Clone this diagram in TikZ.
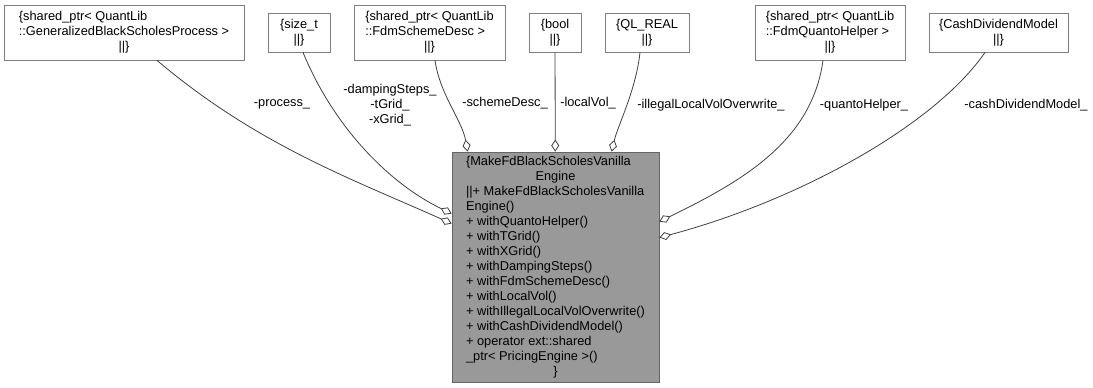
\documentclass[tikz,border=0pt]{standalone}
\usepackage{fontspec}
\setmainfont{Liberation Sans}
\usetikzlibrary{arrows.meta}
\definecolor{boxline}{HTML}{808080}
\definecolor{clsfill}{HTML}{999999}
\definecolor{clsline}{HTML}{666666}
\definecolor{edgeline}{HTML}{404040}
\newcommand\fieldrows[1]{\begin{tabular}{@{}l@{}}#1\end{tabular}}
\newcommand\midrow[1]{\multicolumn{1}{@{}c@{}}{#1}}

\begin{document}
\begin{tikzpicture}[x=1pt,y=-1pt,
  font=\fontsize{12.8}{15}\selectfont,
  member/.style={draw=boxline,fill=white,inner sep=0pt,line width=0.8pt},
  cls/.style={draw=clsline,fill=clsfill,inner sep=0pt,line width=0.8pt},
  agg/.style={draw=edgeline,line width=0.8pt,-{Diamond[open,length=12pt,width=8pt]}},
  lbl/.style={inner sep=0pt,align=center}]
\useasboundingbox (0,0) rectangle (1093,388);

\node[member,minimum width=240,minimum height=55] (process) at (124,32.5)
  {\fieldrows{\{shared\_ptr< QuantLib\\::GeneralizedBlackScholesProcess >\\\midrow{||\}}}};
\node[member,minimum width=62,minimum height=39] (sizet) at (299,32.5)
  {\fieldrows{\{size\_t\\\midrow{||\}}}};
\node[member,minimum width=151,minimum height=55] (scheme) at (429.5,32.5)
  {\fieldrows{\{shared\_ptr< QuantLib\\::FdmSchemeDesc >\\\midrow{||\}}}};
\node[member,minimum width=52,minimum height=39] (boolt) at (555,32.5)
  {\fieldrows{\{bool\\\midrow{||\}}}};
\node[member,minimum width=84,minimum height=39] (qlreal) at (647,32.5)
  {\fieldrows{\{QL\_REAL\\\midrow{||\}}}};
\node[member,minimum width=150,minimum height=55] (quanto) at (830,32.5)
  {\fieldrows{\{shared\_ptr< QuantLib\\::FdmQuantoHelper >\\\midrow{||\}}}};
\node[member,minimum width=139,minimum height=39] (cashdiv) at (998.5,32.5)
  {\fieldrows{\{CashDividendModel\\\midrow{||\}}}};

\node[cls,minimum width=207,minimum height=230] (main) at (555.5,267)
  {\fieldrows{\{MakeFdBlackScholesVanilla\\\midrow{Engine}\\
  ||+ MakeFdBlackScholesVanilla\\Engine()\\
  + withQuantoHelper()\\+ withTGrid()\\+ withXGrid()\\
  + withDampingSteps()\\+ withFdmSchemeDesc()\\+ withLocalVol()\\
  + withIllegalLocalVolOverwrite()\\+ withCashDividendModel()\\
  + operator ext::shared\\\_ptr< PricingEngine >()\\\midrow{\}}}};

\draw[agg] ([xshift=33pt]process.south) .. controls (257,145) and (352,179) .. ([yshift=-72pt]main.north west);
\draw[agg] ([xshift=4pt]sizet.south) .. controls (335,130) and (392,185) .. ([yshift=-62pt]main.north west);
\draw[agg] ([xshift=5.5pt]scheme.south) .. controls (440,95) and (462,120) .. ([xshift=16pt]main.north west);
\draw[agg] (boolt) -- (main);
\draw[agg] ([xshift=-7pt]qlreal.south) .. controls (636,90) and (618,125) .. ([xshift=160pt]main.north west);
\draw[agg] ([xshift=-7pt]quanto.south) .. controls (812,140) and (745,180) .. ([yshift=-70pt]main.north east);
\draw[agg] ([xshift=-13.5pt]cashdiv.south) .. controls (935,125) and (800,200) .. ([yshift=-86pt]main.north east);

\node[lbl] (lprocess) at (282,104) {-process\_};
\node[lbl] (lgrid) at (390,105) {-dampingSteps\_\\-tGrid\_\\-xGrid\_};
\node[lbl] (lscheme) at (505,103) {-schemeDesc\_};
\node[lbl] (llocal) at (588,103) {-localVol\_};
\node[lbl] (lillegal) at (711,105) {-illegalLocalVolOverwrite\_};
\node[lbl] (lquanto) at (864,105) {-quantoHelper\_};
\node[lbl] (lcash) at (1026,105) {-cashDividendModel\_};
\end{tikzpicture}
\end{document}
